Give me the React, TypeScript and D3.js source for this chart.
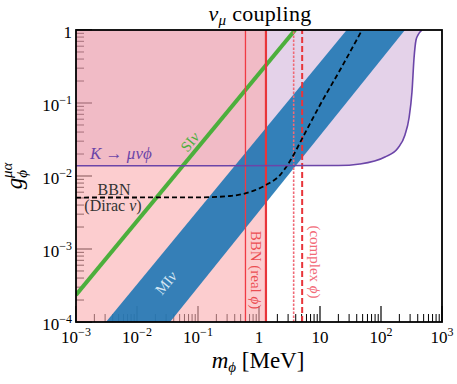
import React from 'react';
import * as d3 from 'd3';

const W = 457;
const H = 384;
const margin = { top: 30, right: 15, bottom: 62, left: 76 };

// axis ticks
const xMajor = [1e-3, 1e-2, 1e-1, 1, 10, 1e2, 1e3];
const xLabels = [['10', '−3'], ['10', '−2'], ['10', '−1'], ['1', ''], ['10', ''], ['10', '2'], ['10', '3']];
const yMajor = [1e-4, 1e-3, 1e-2, 1e-1, 1];
const yLabels = [['10', '−4'], ['10', '−3'], ['10', '−2'], ['10', '−1'], ['1', '']];

// K -> mu nu phi bound (excluded above)
const kMass = [1e-3, 20, 45, 116, 190, 247, 288, 322, 348, 375, 405, 470];
const kCoupling = [0.0138, 0.0139, 0.0146, 0.0182, 0.0242, 0.0365, 0.0623, 0.1415, 0.413, 0.73, 0.855, 1];

// BBN (Dirac nu) dashed curve
const bbnMass = [1e-3, 0.108, 0.335, 0.711, 1.3, 2.21, 3.22, 5.47, 10, 21.3, 48.9];
const bbnCoupling = [0.00507, 0.0051, 0.00532, 0.00604, 0.00753, 0.0103, 0.016, 0.0365, 0.094, 0.283, 1];

// SI nu line and MI nu band
const siMass = [1e-3, 3.9];
const siCoupling = [2.35e-4, 1];
const miUpperMass = [3.1e-3, 27.4];
const miLowerMass = [0.0348, 247];
const miCoupling = [1e-4, 1];

// BBN vertical bounds [MeV]
const bbnRealThin = 0.6;
const bbnReal = 1.3;
const complexDotted = 3.7;
const complexDashed = 5.1;

const font = "'Liberation Serif', 'DejaVu Serif', serif";

export default function App() {
  const x = d3.scaleLog().domain([1e-3, 1e3]).range([margin.left, W - margin.right]);
  const y = d3.scaleLog().domain([1e-4, 1]).range([H - margin.bottom, margin.top]);
  const [x0, x1] = x.range();
  const [y0, y1] = y.range();

  const minor = (decades: number[]) => {
    const out: number[] = [];
    decades.slice(0, -1).forEach((d) => {
      for (let k = 2; k <= 9; k++) out.push(d * k);
    });
    return out;
  };

  const kPts = kMass.map((m, i) => [m, kCoupling[i]]);
  const kArea = d3
    .area<number[]>()
    .x((d) => x(d[0]))
    .y0(y(1))
    .y1((d) => y(d[1]))
    .curve(d3.curveMonotoneX)(kPts);
  const kLine = d3
    .line<number[]>()
    .x((d) => x(d[0]))
    .y((d) => y(d[1]))
    .curve(d3.curveMonotoneX)(kPts);

  const bbnLine = d3
    .line<number[]>()
    .x((d) => x(d[0]))
    .y((d) => y(d[1]))
    .curve(d3.curveMonotoneX)(bbnMass.map((m, i) => [m, bbnCoupling[i]]));

  const band = [
    [miUpperMass[0], miCoupling[0]],
    [miUpperMass[1], miCoupling[1]],
    [miLowerMass[1], miCoupling[1]],
    [miLowerMass[0], miCoupling[0]],
  ];
  const bandPath = d3.line<number[]>().x((d) => x(d[0])).y((d) => y(d[1]))(band) + 'Z';

  const siAngle = (Math.atan2(y(siCoupling[1]) - y(siCoupling[0]), x(siMass[1]) - x(siMass[0])) * 180) / Math.PI;

  return (
    <svg width={W} height={H} style={{ position: 'absolute', left: 0, top: 0, fontFamily: font }}>
      <defs>
        <clipPath id="plot">
          <rect x={x0} y={y1} width={x1 - x0} height={y0 - y1} />
        </clipPath>
      </defs>

      {/* ticks, drawn under the shading */}
      {xMajor.map((v) => (
        <line key={'xM' + v} x1={x(v)} x2={x(v)} y1={y0} y2={y0 - 16} stroke="#000" strokeWidth={1.2} />
      ))}
      {minor(xMajor).map((v) => (
        <line key={'xm' + v} x1={x(v)} x2={x(v)} y1={y0} y2={y0 - 8} stroke="#000" strokeWidth={1} />
      ))}
      {yMajor.map((v) => (
        <line key={'yM' + v} x1={x0} x2={x0 + 16} y1={y(v)} y2={y(v)} stroke="#000" strokeWidth={1.2} />
      ))}
      {minor(yMajor).map((v) => (
        <line key={'ym' + v} x1={x0} x2={x0 + 8} y1={y(v)} y2={y(v)} stroke="#000" strokeWidth={1} />
      ))}

      <g clipPath="url(#plot)">
        <path d={kArea || ''} fill="#9650aa" fillOpacity={0.26} />
        <rect x={x0} y={y1} width={x(bbnReal) - x0} height={y0 - y1} fill="#faacaf" fillOpacity={0.6} />
        <path d={bandPath} fill="#1f77b4" fillOpacity={0.9} />
        <line x1={x(siMass[0])} y1={y(siCoupling[0])} x2={x(siMass[1])} y2={y(siCoupling[1])} stroke="#4caf3c" strokeWidth={4} />
        <line x1={x(bbnRealThin)} x2={x(bbnRealThin)} y1={y0} y2={y1} stroke="#f03a44" strokeWidth={1.3} />
        <line x1={x(bbnReal)} x2={x(bbnReal)} y1={y0} y2={y1} stroke="#e8353a" strokeWidth={2.2} />
        <line x1={x(complexDotted)} x2={x(complexDotted)} y1={y0} y2={y1} stroke="#f06a76" strokeWidth={1.6} strokeDasharray="2.5,1.5" />
        <line x1={x(complexDashed)} x2={x(complexDashed)} y1={y0} y2={y1} stroke="#e8353a" strokeWidth={2} strokeDasharray="6,3" />
        <path d={bbnLine || ''} fill="none" stroke="#000" strokeWidth={1.8} strokeDasharray="5,3" />
        <path d={kLine || ''} fill="none" stroke="#6b45a8" strokeWidth={1.6} />
      </g>

      {/* labels inside the plot */}
      <text x={90} y={159} fontSize={17} fill="#6b45a8">
        <tspan fontStyle="italic">K</tspan> → <tspan fontStyle="italic">μνϕ</tspan>
      </text>
      <text x={114} y={195} fontSize={16} fill="#333" textAnchor="middle">BBN</text>
      <text x={113} y={211} fontSize={16} fill="#333" textAnchor="middle">
        (Dirac <tspan fontStyle="italic">ν</tspan>)
      </text>
      <text transform={`translate(190,142) rotate(${siAngle})`} fontSize={15} fill="#4caf3c" textAnchor="middle" dominantBaseline="central">
        SI<tspan fontStyle="italic">ν</tspan>
      </text>
      <text transform={`translate(166,283) rotate(${siAngle})`} fontSize={15} fill="#d4e6f3" textAnchor="middle" dominantBaseline="central">
        MI<tspan fontStyle="italic">ν</tspan>
      </text>
      <text transform={`translate(${x(bbnReal) - 10},270) rotate(90)`} fontSize={15} fill="#e8353a" fillOpacity={0.85} textAnchor="middle" dominantBaseline="central">
        BBN (real <tspan fontStyle="italic">ϕ</tspan>)
      </text>
      <text transform={`translate(${x(complexDashed) + 13},262) rotate(90)`} fontSize={15} fill="#f26a78" textAnchor="middle" dominantBaseline="central">
        (complex <tspan fontStyle="italic">ϕ</tspan>)
      </text>

      {/* frame */}
      <rect x={x0} y={y1} width={x1 - x0} height={y0 - y1} fill="none" stroke="#000" strokeWidth={1.8} />

      {/* tick labels */}
      {xMajor.map((v, i) => (
        <text key={'xl' + v} x={x(v)} y={343} fontSize={17} textAnchor="middle">
          {xLabels[i][0]}
          {xLabels[i][1] && (
            <tspan dy={-7} fontSize={12}>
              {xLabels[i][1]}
            </tspan>
          )}
        </text>
      ))}
      {yMajor.map((v, i) => (
        <text key={'yl' + v} x={72} y={y(v) + 8} fontSize={17} textAnchor="end">
          {yLabels[i][0]}
          {yLabels[i][1] && (
            <tspan dy={-7} fontSize={12}>
              {yLabels[i][1]}
            </tspan>
          )}
        </text>
      ))}

      {/* axis titles */}
      <text x={258} y={368} fontSize={23} textAnchor="middle">
        <tspan fontStyle="italic">m</tspan>
        <tspan fontStyle="italic" fontSize={15} dy={4}>ϕ</tspan>
        <tspan dy={-4}> [MeV]</tspan>
      </text>
      <text transform="translate(22,176) rotate(-90)" fontSize={23} textAnchor="middle">
        <tspan fontStyle="italic">g</tspan>
        <tspan fontStyle="italic" fontSize={15} dy={5}>ϕ</tspan>
        <tspan fontStyle="italic" fontSize={15} dx={-8} dy={-15}>μα</tspan>
      </text>

      {/* title */}
      <text x={260} y={21} fontSize={22} textAnchor="middle" letterSpacing={0.3}>
        <tspan fontStyle="italic">ν</tspan>
        <tspan fontStyle="italic" fontSize={15} dy={4}>μ</tspan>
        <tspan dy={-4}> coupling</tspan>
      </text>
    </svg>
  );
}
